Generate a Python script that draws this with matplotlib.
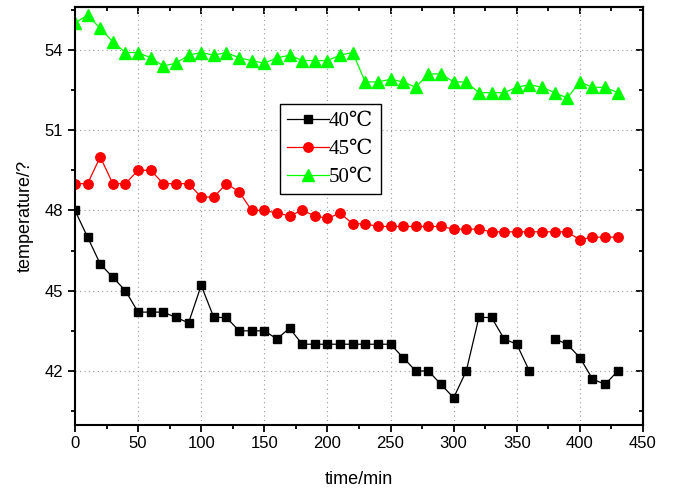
import numpy as np
import matplotlib
matplotlib.use("Agg")
import matplotlib.pyplot as plt
from matplotlib.ticker import MultipleLocator

time = list(range(0, 440, 10))
t40 = [48.0, 47.0, 46.0, 45.5, 45.0, 44.2, 44.2, 44.2, 44.0, 43.8,
       45.2, 44.0, 44.0, 43.5, 43.5, 43.5, 43.2, 43.6, 43.0, 43.0,
       43.0, 43.0, 43.0, 43.0, 43.0, 43.0, 42.5, 42.0, 42.0, 41.5,
       41.0, 42.0, 44.0, 44.0, 43.2, 43.0, 42.0, np.nan, 43.2, 43.0,
       42.5, 41.7, 41.5, 42.0]
t45 = [49.0, 49.0, 50.0, 49.0, 49.0, 49.5, 49.5, 49.0, 49.0, 49.0,
       48.5, 48.5, 49.0, 48.7, 48.0, 48.0, 47.9, 47.8, 48.0, 47.8,
       47.7, 47.9, 47.5, 47.5, 47.4, 47.4, 47.4, 47.4, 47.4, 47.4,
       47.3, 47.3, 47.3, 47.2, 47.2, 47.2, 47.2, 47.2, 47.2, 47.2,
       46.9, 47.0, 47.0, 47.0]
t50 = [55.0, 55.3, 54.8, 54.3, 53.9, 53.9, 53.7, 53.4, 53.5, 53.8,
       53.9, 53.8, 53.9, 53.7, 53.6, 53.5, 53.7, 53.8, 53.6, 53.6,
       53.6, 53.8, 53.9, 52.8, 52.8, 52.9, 52.8, 52.6, 53.1, 53.1,
       52.8, 52.8, 52.4, 52.4, 52.4, 52.6, 52.7, 52.6, 52.4, 52.2,
       52.8, 52.6, 52.6, 52.4]
labels = ["40\u2103", "45\u2103", "50\u2103"]
xticks = [0, 50, 100, 150, 200, 250, 300, 350, 400, 450]
yticks = [42, 45, 48, 51, 54]

plt.rcParams['font.family'] = ['Liberation Sans', 'DejaVu Sans']

fig = plt.figure(figsize=(6.73, 4.91), dpi=100)
ax = fig.add_axes([0.1114, 0.1354, 0.844, 0.8503])

ax.plot(time, t40, color='black', lw=0.9, marker='s', ms=6.0, mec='black', mfc='black', label=labels[0])
ax.plot(time, t45, color='red', lw=0.9, marker='o', ms=6.8, mec='red', mfc='red', label=labels[1])
ax.plot(time, t50, color='#00ff00', lw=0.9, marker='^', ms=8.5, mec='#00ff00', mfc='#00ff00', label=labels[2])

ax.set_xlim(0, 450)
ax.set_ylim(40, 55.6)
ax.set_xticks(xticks)
ax.set_yticks(yticks)
ax.xaxis.set_minor_locator(MultipleLocator(25))
ax.yaxis.set_minor_locator(MultipleLocator(1.5))
ax.grid(True, which='major', linestyle=(0, (1, 3)), color='#999999', lw=0.8)
ax.set_axisbelow(True)

ax.tick_params(axis='both', which='major', labelsize=12, width=1.3, length=5, direction='out')
ax.tick_params(axis='both', which='minor', width=1.3, length=3, direction='out')

ax2 = ax.secondary_xaxis('top')
ax2.set_xticks(xticks)
ax2.xaxis.set_minor_locator(MultipleLocator(25))
ax2.tick_params(which='major', direction='in', length=5, width=1.3, labeltop=False)
ax2.tick_params(which='minor', direction='in', length=3, width=1.3)
ax2.set_xticklabels([])
ay2 = ax.secondary_yaxis('right')
ay2.set_yticks(yticks)
ay2.yaxis.set_minor_locator(MultipleLocator(1.5))
ay2.tick_params(which='major', direction='in', length=5, width=1.3)
ay2.tick_params(which='minor', direction='in', length=3, width=1.3)
ay2.set_yticklabels([])

for s in ax.spines.values():
    s.set_linewidth(1.5)
for s in ax2.spines.values():
    s.set_linewidth(1.5)
for s in ay2.spines.values():
    s.set_linewidth(1.5)

ax.set_xlabel('time/min', fontsize=13, labelpad=14)
ax.set_ylabel('temperature/?', fontsize=13, labelpad=8)

leg = ax.legend(loc='upper left', bbox_to_anchor=(0.361, 0.767), fancybox=False,
                edgecolor='black', framealpha=1, handlelength=2.0, handletextpad=0.0,
                borderpad=0.35, labelspacing=0.4, borderaxespad=0,
                prop={'family': ['Liberation Serif', 'DejaVu Serif'], 'size': 15})
leg.get_frame().set_linewidth(1.0)

fig.savefig('out.png', dpi=100)
